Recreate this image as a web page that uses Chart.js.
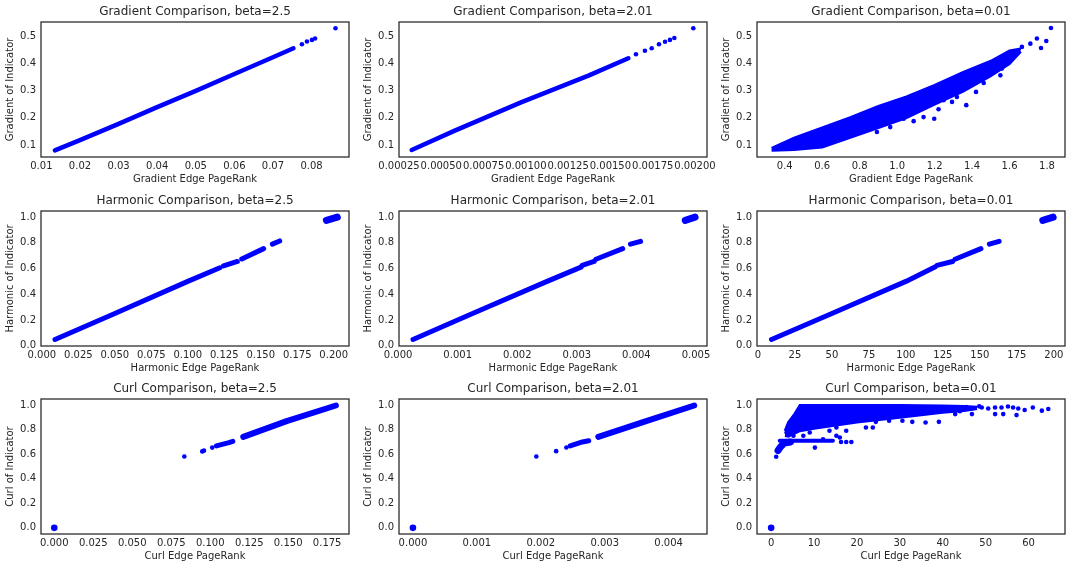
<!DOCTYPE html>
<html>
<head>
<meta charset="utf-8">
<script src="https://cdn.jsdelivr.net/npm/chart.js@4.4.1/dist/chart.umd.min.js"></script>
<style>
  body { margin: 0; background: #fff; }
  #wrap { position: relative; width: 1072px; height: 568px; background: #fff; overflow: hidden; }
  #wrap canvas { position: absolute; }
</style>
</head>
<body>
<div id="wrap"></div>
<script>
// ---- values ----
const gradTicksY = [0.1, 0.2, 0.3, 0.4, 0.5];
const unitTicksY = [0.0, 0.2, 0.4, 0.6, 0.8, 1.0];

// Gradient, beta=2.5
const grad25TicksX = [0.01, 0.02, 0.03, 0.04, 0.05, 0.06, 0.07, 0.08];
const grad25Band = [[0.0135, 0.08], [0.02, 0.118], [0.03, 0.178], [0.04, 0.24], [0.05, 0.30], [0.06, 0.362], [0.07, 0.424], [0.0753, 0.457]];
const grad25Pts = [[0.0775, 0.472], [0.0788, 0.482], [0.0801, 0.488], [0.0809, 0.493], [0.0862, 0.531]];

// Gradient, beta=2.01
const grad201TicksX = [0.00025, 0.0005, 0.00075, 0.001, 0.00125, 0.0015, 0.00175, 0.002];
const grad201Band = [[0.000325, 0.0815], [0.00058, 0.153], [0.000975, 0.258], [0.00137, 0.356], [0.001606, 0.42]];
const grad201Pts = [[0.001651, 0.435], [0.001704, 0.448], [0.001744, 0.457], [0.001787, 0.472], [0.001823, 0.481], [0.001852, 0.488], [0.001878, 0.495], [0.00199, 0.531]];

// Gradient, beta=0.01
const grad001TicksX = [0.4, 0.6, 0.8, 1.0, 1.2, 1.4, 1.6, 1.8];
const grad001Upper = [[0.33, 0.088], [0.45, 0.126], [0.6, 0.164], [0.75, 0.202], [0.9, 0.243], [1.05, 0.278], [1.2, 0.321], [1.35, 0.368], [1.5, 0.41], [1.6, 0.448], [1.66, 0.455]];
const grad001Lower = [[0.33, 0.08], [0.45, 0.082], [0.6, 0.092], [0.75, 0.127], [0.9, 0.163], [1.05, 0.2], [1.2, 0.25], [1.35, 0.297], [1.5, 0.355], [1.6, 0.40], [1.66, 0.445]];
const grad001Pts = [[1.821, 0.532], [1.796, 0.484], [1.768, 0.458], [1.746, 0.493], [1.711, 0.474], [1.666, 0.462],
  [1.577, 0.431], [1.551, 0.357], [1.559, 0.382], [1.462, 0.329], [1.421, 0.296], [1.337, 0.314], [1.369, 0.247],
  [1.293, 0.259], [1.221, 0.232], [1.198, 0.197], [1.141, 0.203], [1.088, 0.188], [1.035, 0.197], [0.963, 0.166],
  [0.892, 0.148], [1.248, 0.265], [1.319, 0.277]];

// Harmonic (same indicator values, three PageRank scales)
const harm25TicksX = [0.0, 0.025, 0.05, 0.075, 0.1, 0.125, 0.15, 0.175, 0.2];
const harm25Segs = [
  [[0.009, 0.048], [0.05, 0.25], [0.1, 0.5], [0.122, 0.606]],
  [[0.1245, 0.62], [0.134, 0.655]],
  [[0.137, 0.675], [0.152, 0.755]],
  [[0.158, 0.79], [0.163, 0.815]],
  [[0.195, 0.975], [0.2025, 1.0]]
];
const harm201TicksX = [0.0, 0.001, 0.002, 0.003, 0.004, 0.005];
const harm201Segs = [
  [[0.00025, 0.048], [0.00125, 0.25], [0.0025, 0.5], [0.00307, 0.611]],
  [[0.00309, 0.625], [0.00329, 0.655]],
  [[0.00332, 0.672], [0.00377, 0.755]],
  [[0.0039, 0.79], [0.00407, 0.812]],
  [[0.00482, 0.975], [0.004985, 1.0]]
];
const harm001TicksX = [0, 25, 50, 75, 100, 125, 150, 175, 200];
const harm001Segs = [
  [[9.2, 0.048], [50, 0.25], [100, 0.5], [119.6, 0.612]],
  [[121, 0.625], [131.5, 0.655]],
  [[133.2, 0.672], [150.7, 0.755]],
  [[156.4, 0.79], [163, 0.812]],
  [[192.5, 0.975], [199.5, 1.0]]
];

// Curl
const curl25TicksX = [0.0, 0.025, 0.05, 0.075, 0.1, 0.125, 0.15, 0.175];
const curl25Segs = [
  [[0.104, 0.668], [0.112, 0.695], [0.1145, 0.705]],
  [[0.1212, 0.741], [0.149, 0.87], [0.1806, 0.997]]
];
const curl25Pts = [[0.0834, 0.582], [0.0949, 0.623], [0.096, 0.629], [0.1013, 0.654]];
const curl201TicksX = [0.0, 0.001, 0.002, 0.003, 0.004];
const curl201Segs = [
  [[0.00246, 0.668], [0.00265, 0.70], [0.00275, 0.71]],
  [[0.0029, 0.741], [0.0036, 0.862], [0.0044, 0.997]]
];
const curl201Pts = [[0.00193, 0.582], [0.00224, 0.625], [0.0024, 0.655]];
const curl001TicksX = [0, 10, 20, 30, 40, 50, 60];
const curl001Upper = [[3.2, 0.79], [4.0, 0.86], [5.5, 0.93], [6.7, 1.0], [10, 1.0], [20, 1.0], [30, 1.0], [40, 0.995], [45, 0.99], [48, 0.985]];
const curl001Lower = [[3.2, 0.75], [4.0, 0.745], [5.5, 0.77], [6.7, 0.79], [10, 0.81], [20, 0.86], [30, 0.90], [40, 0.94], [45, 0.955], [48, 0.97]];
const curl001Segs = [
  [[1.6, 0.63], [2.2, 0.66], [3.0, 0.69], [4.5, 0.70]],
  [[2.0, 0.71], [14.4, 0.71]]
];
const curl001Pts = [[1.17, 0.58], [49.1, 0.981], [50.6, 0.973], [52.2, 0.981], [53.7, 0.981], [55.2, 0.989], [56.4, 0.981],
  [57.6, 0.973], [59.1, 0.960], [61.0, 0.981], [63.1, 0.955], [64.6, 0.968], [52.2, 0.927], [54.1, 0.927], [57.2, 0.919],
  [46.8, 0.927], [42.9, 0.927], [39.1, 0.864], [36.0, 0.859], [32.9, 0.864], [30.6, 0.873], [27.5, 0.873], [24.4, 0.864],
  [22.1, 0.818], [23.7, 0.818], [15.2, 0.818], [15.2, 0.750], [16.0, 0.736], [17.5, 0.791], [10.2, 0.654], [12.1, 0.722],
  [13.6, 0.791], [9.0, 0.777], [7.5, 0.750], [3.6, 0.777], [5.2, 0.750], [16.3, 0.70], [17.5, 0.70], [18.7, 0.70],
  [41, 0.96], [44, 0.95], [47, 0.975], [48.5, 0.99], [45.5, 0.985]];
const zeroPt = [[0, 0]];

const BLUE = '#0000ff';
const INK = '#262626';

Chart.defaults.font.family = "'DejaVu Sans', sans-serif";
Chart.defaults.color = INK;

function toXY(arr){
  return arr.map(p => ({x: p[0], y: p[1]}));
}
function bandSet(arr, w){
  return {data: toXY(arr), showLine: true, borderColor: BLUE, borderWidth: w, pointRadius: 0,
    borderCapStyle: 'round', borderJoinStyle: 'round', fill: false};
}
function fillSets(upper, lower){
  return [
    {data: toXY(upper), showLine: true, borderColor: BLUE, borderWidth: 2.5, pointRadius: 0, backgroundColor: BLUE, fill: '+1'},
    {data: toXY(lower), showLine: true, borderColor: BLUE, borderWidth: 2.5, pointRadius: 0, fill: false}
  ];
}
function pointSet(arr, r){
  return {data: toXY(arr), showLine: false, pointRadius: r, pointBorderWidth: 0,
    pointBackgroundColor: BLUE, backgroundColor: BLUE, borderColor: BLUE};
}

// full frame around each plot
const frame = {
  id: 'frame',
  afterDraw(chart){
    const a = chart.chartArea, c = chart.ctx;
    c.save();
    c.strokeStyle = INK;
    c.lineWidth = 1.25;
    c.strokeRect(a.left, a.top, a.right - a.left, a.bottom - a.top);
    c.restore();
  }
};

function makePanel(p){
  const cv = document.createElement('canvas');
  cv.width = 365; cv.height = 190;
  cv.style.left = p.left + 'px';
  cv.style.top = p.top + 'px';
  document.querySelector('#wrap').appendChild(cv);

  let datasets = [];
  (p.fills || []).forEach(f => { datasets = datasets.concat(fillSets(f[0], f[1])); });
  (p.bands || []).forEach(b => datasets.push(bandSet(b[0], b[1])));
  if (p.pts) datasets.push(pointSet(p.pts, 2.3));
  if (p.big) datasets.push(pointSet(p.big, 3.3));

  new Chart(cv, {
    type: 'line',
    data: {datasets: datasets},
    options: {
      responsive: false,
      animation: false,
      devicePixelRatio: 1,
      layout: {padding: {left: 0, right: 16, top: 0, bottom: 0}},
      plugins: {
        legend: {display: false},
        tooltip: {enabled: false},
        title: {display: true, text: p.title, fullSize: false, color: INK,
          font: {size: 12, weight: 'normal'}, padding: {top: 5, bottom: 2.6}}
      },
      scales: {
        x: {
          type: 'linear', min: p.xr[0], max: p.xr[1],
          grid: {display: false, drawTicks: false}, border: {display: false},
          afterBuildTicks: s => { s.ticks = p.xt.map(v => ({value: v})); },
          afterFit: s => { s.height = 33; },
          ticks: {font: {size: 10}, padding: 3, maxRotation: 0, autoSkip: false,
            callback: v => Number(v).toFixed(p.xd)},
          title: {display: true, text: p.xl, font: {size: 10}, padding: {top: 0, bottom: 5}}
        },
        y: {
          type: 'linear', min: p.yr[0], max: p.yr[1],
          grid: {display: false, drawTicks: false}, border: {display: false},
          afterBuildTicks: s => { s.ticks = p.yt.map(v => ({value: v})); },
          afterFit: s => { s.width = 41; },
          ticks: {font: {size: 10}, padding: 5, autoSkip: false,
            callback: v => Number(v).toFixed(1)},
          title: {display: true, text: p.yl, font: {size: 10}, padding: {top: 4, bottom: 0}}
        }
      }
    },
    plugins: [frame]
  });
}

const colLeft = [0, 358, 716];
const rowTop = [0, 189, 377];
const gradY = [0.0557, 0.554];
const unitY = [-0.003, 1.048];
const curlY = [-0.05, 1.05];

const panels = [
  {title: 'Gradient Comparison, beta=2.5', xl: 'Gradient Edge PageRank', yl: 'Gradient of Indicator',
   xr: [0.0099, 0.0897], yr: gradY, xt: grad25TicksX, yt: gradTicksY, xd: 2,
   bands: [[grad25Band, 4.5]], pts: grad25Pts},
  {title: 'Gradient Comparison, beta=2.01', xl: 'Gradient Edge PageRank', yl: 'Gradient of Indicator',
   xr: [0.00025, 0.002071], yr: gradY, xt: grad201TicksX, yt: gradTicksY, xd: 5,
   bands: [[grad201Band, 4.5]], pts: grad201Pts},
  {title: 'Gradient Comparison, beta=0.01', xl: 'Gradient Edge PageRank', yl: 'Gradient of Indicator',
   xr: [0.252, 1.896], yr: gradY, xt: grad001TicksX, yt: gradTicksY, xd: 1,
   fills: [[grad001Upper, grad001Lower]], pts: grad001Pts},
  {title: 'Harmonic Comparison, beta=2.5', xl: 'Harmonic Edge PageRank', yl: 'Harmonic of Indicator',
   xr: [-0.0006, 0.2105], yr: unitY, xt: harm25TicksX, yt: unitTicksY, xd: 3,
   bands: harm25Segs.map((s, i) => [s, i === 4 ? 7 : 5])},
  {title: 'Harmonic Comparison, beta=2.01', xl: 'Harmonic Edge PageRank', yl: 'Harmonic of Indicator',
   xr: [0.000015, 0.005185], yr: unitY, xt: harm201TicksX, yt: unitTicksY, xd: 3,
   bands: harm201Segs.map((s, i) => [s, i === 4 ? 7 : 5])},
  {title: 'Harmonic Comparison, beta=0.01', xl: 'Harmonic Edge PageRank', yl: 'Harmonic of Indicator',
   xr: [-0.6, 207.5], yr: unitY, xt: harm001TicksX, yt: unitTicksY, xd: 0,
   bands: harm001Segs.map((s, i) => [s, i === 4 ? 7 : 5])},
  {title: 'Curl Comparison, beta=2.5', xl: 'Curl Edge PageRank', yl: 'Curl of Indicator',
   xr: [-0.0085, 0.189], yr: curlY, xt: curl25TicksX, yt: unitTicksY, xd: 3,
   bands: curl25Segs.map((s, i) => [s, i === 1 ? 6 : 5]), pts: curl25Pts, big: zeroPt},
  {title: 'Curl Comparison, beta=2.01', xl: 'Curl Edge PageRank', yl: 'Curl of Indicator',
   xr: [-0.000218, 0.0046], yr: curlY, xt: curl201TicksX, yt: unitTicksY, xd: 3,
   bands: curl201Segs.map((s, i) => [s, i === 1 ? 6 : 5]), pts: curl201Pts, big: zeroPt},
  {title: 'Curl Comparison, beta=0.01', xl: 'Curl Edge PageRank', yl: 'Curl of Indicator',
   xr: [-3.3, 68.5], yr: curlY, xt: curl001TicksX, yt: unitTicksY, xd: 0,
   fills: [[curl001Upper, curl001Lower]], bands: [[curl001Segs[0], 7], [curl001Segs[1], 4]],
   pts: curl001Pts, big: zeroPt}
];

panels.forEach((p, i) => {
  p.left = colLeft[i % 3];
  p.top = rowTop[Math.floor(i / 3)];
  makePanel(p);
});
</script>
</body>
</html>
